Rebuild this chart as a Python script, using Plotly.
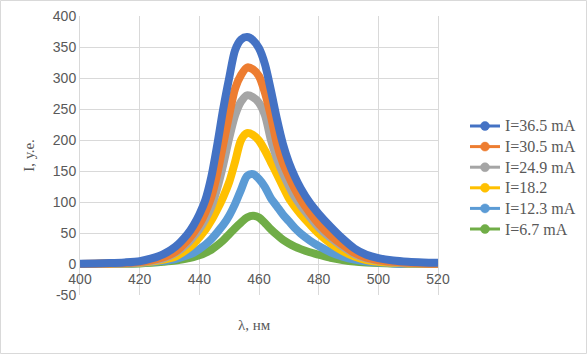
import plotly.graph_objects as go

wavelength = [400, 405, 410, 415, 420, 424, 428, 432, 436, 438, 440, 442, 444, 446, 448,
              450, 452, 454, 456, 458, 460, 462, 464, 466, 468, 470, 472, 474, 477, 480,
              484, 488, 492, 496, 500, 505, 510, 515, 520]

i_365 = [0.5, 1, 1.5, 2.5, 4.5, 9, 16, 28, 48, 62, 80, 103, 140, 192, 250,
         300, 345, 362, 366, 361, 348, 322, 280, 234, 194, 164, 141, 122, 99, 81,
         60, 41, 25, 15, 9.5, 5.5, 3.5, 2.5, 2]
i_305 = [0, 0.5, 1, 1.5, 3, 6, 11, 20, 38, 50, 64, 83, 108, 145, 193,
         240, 283, 305, 317, 314, 303, 276, 238, 194, 163, 141, 121, 104, 83, 65,
         46, 31, 18, 10, 6, 3.5, 2, 1, 0.5]
i_249 = [0, 0.3, 0.8, 1.2, 2.5, 5, 9, 18, 33, 44, 56, 72, 92, 122, 160,
         203, 240, 262, 272, 269, 260, 240, 200, 170, 146, 126, 108, 94, 76, 59,
         42, 28, 16, 9, 5.5, 3, 1.5, 1, 0.5]
i_182 = [0, 0.2, 0.5, 1, 2, 4, 7, 12, 24, 32, 43, 55, 70, 88, 108,
         132, 165, 200, 211, 208, 199, 183, 164, 145, 125, 106, 92, 80, 64, 49,
         33, 21, 12, 6.5, 3.5, 2, 1, 0.5, 0.3]
i_123 = [0, 0, 0.3, 0.7, 1.5, 3, 5, 8, 14, 18, 24, 31, 40, 51, 63,
         78, 97, 120, 142, 145, 137, 124, 106, 93, 80, 69, 58, 49, 38, 29,
         19, 12, 7, 4, 2.5, 1, 0.5, 0.3, 0]
i_67 = [0, 0, 0.2, 0.5, 1, 2, 3.5, 5.5, 9, 11, 14, 18, 23, 30, 38,
        48, 58, 67, 75, 78, 75, 66, 56, 47, 39, 33, 28, 24, 19, 15,
        10, 6.5, 4, 2.5, 1.5, 0.8, 0.3, 0, 0]

series_names = ["I=36.5 mA", "I=30.5 mA", "I=24.9 mA", "I=18.2", "I=12.3 mA", "I=6.7 mA"]
series_values = [i_365, i_305, i_249, i_182, i_123, i_67]
series_colors = ["#4472C4", "#ED7D31", "#A5A5A5", "#FFC000", "#5B9BD5", "#70AD47"]

x_ticks = [400, 420, 440, 460, 480, 500, 520]
y_ticks = [-50, 0, 50, 100, 150, 200, 250, 300, 350, 400]

W, H = 587, 354
L, R, T, B = 80, 149, 16, 59
pw, ph = W - L - R, H - T - B


def px(x):
    return (x - L) / pw


def py(y):
    return (H - B - y) / ph


fig = go.Figure()

# curves: smallest first so the largest sits on top
for name, vals, col in reversed(list(zip(series_names, series_values, series_colors))):
    fig.add_trace(go.Scatter(
        x=wavelength, y=vals, mode="lines", name=name, showlegend=False,
        line=dict(color=col, width=8, shape="spline", smoothing=0.8),
        hoverinfo="skip"))

grid = "#d9d9d9"
txt = "#595959"

shapes = [dict(
    type="rect", xref="paper", yref="paper",
    x0=px(0.5), x1=px(W - 0.5), y0=py(H - 0.5), y1=py(0.5),
    line=dict(color=grid, width=1), fillcolor="rgba(0,0,0,0)", layer="below")]
annotations = [dict(
    text="λ, нм", xref="paper", yref="paper",
    x=px(254.7), y=py(325), xanchor="center", yanchor="middle", showarrow=False,
    font=dict(family="Liberation Serif", size=15, color=txt))]

# legend (drawn manually to match spacing)
row0, step = 126, 20.6
for k, (name, col) in enumerate(zip(series_names, series_colors)):
    ry = row0 + k * step
    shapes.append(dict(type="line", xref="paper", yref="paper",
                       x0=px(470), x1=px(500), y0=py(ry), y1=py(ry),
                       line=dict(color=col, width=3)))
    shapes.append(dict(type="circle", xref="paper", yref="paper",
                       x0=px(480.5), x1=px(489.5), y0=py(ry + 4.5), y1=py(ry - 4.5),
                       line=dict(color=col, width=0.5), fillcolor=col))
    annotations.append(dict(text=name, xref="paper", yref="paper",
                            x=px(503), y=py(ry), xanchor="left", yanchor="middle",
                            showarrow=False,
                            font=dict(family="Liberation Serif", size=16, color=txt)))

fig.update_layout(
    width=W, height=H,
    margin=dict(l=L, r=R, t=T, b=B, autoexpand=False),
    paper_bgcolor="white", plot_bgcolor="white",
    font=dict(family="Liberation Sans", color=txt, size=14),
    showlegend=False,
    xaxis=dict(
        range=[400, 520], tickvals=x_ticks, ticktext=[str(v) for v in x_ticks],
        showgrid=True, gridcolor=grid, gridwidth=1,
        zeroline=False, showline=False, ticks="",
        anchor="free", position=50 / 450, ticklabelstandoff=5,
        tickfont=dict(family="Liberation Sans", size=14, color=txt),
    ),
    yaxis=dict(
        range=[-50, 400], tickvals=y_ticks, ticktext=[str(v) for v in y_ticks],
        showgrid=True, gridcolor=grid, gridwidth=1,
        zeroline=True, zerolinecolor=grid, zerolinewidth=1,
        showline=True, linecolor=grid, linewidth=1, mirror=True, ticks="",
        tickfont=dict(family="Liberation Sans", size=14, color=txt),
        title=dict(text="I, у.е.", font=dict(family="Liberation Serif", size=15, color=txt),
                   standoff=14),
    ),
    annotations=annotations,
    shapes=shapes,
)

fig.write_html("out.html")
